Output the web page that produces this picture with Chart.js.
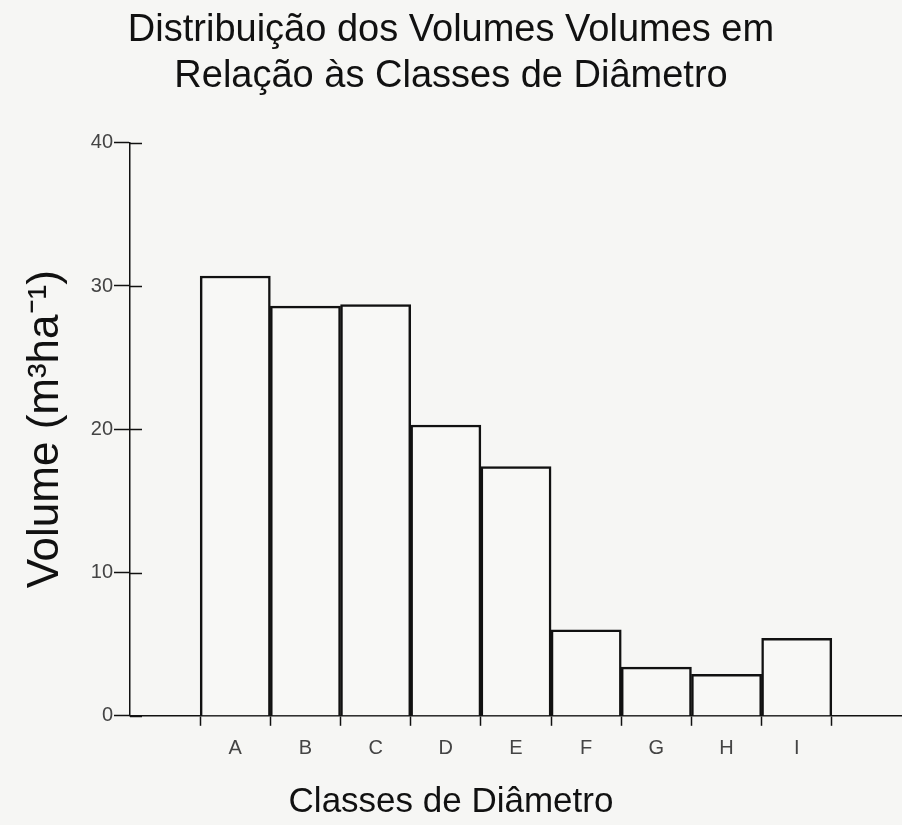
<!DOCTYPE html>
<html>
<head>
<meta charset="utf-8">
<script src="https://cdn.jsdelivr.net/npm/chart.js@4.4.1/dist/chart.umd.min.js"></script>
<style>
  html, body { margin: 0; padding: 0; background: #f6f6f4; }
  #wrap { width: 902px; height: 825px; }
</style>
</head>
<body>
<div id="wrap"><canvas id="myChart" width="902" height="825"></canvas></div>
<script>
// classes de diâmetro e volumes (m3/ha)
const classes = ["A", "B", "C", "D", "E", "F", "G", "H", "I"];
const volumes = [30.7, 28.6, 28.7, 20.3, 17.4, 6.0, 3.4, 2.9, 5.4];
const yTicks = [0, 10, 20, 30, 40];

// empty slot before A and after I, like the original axis
const labels = [""].concat(classes, [""]);
const values = [null].concat(volumes, [null]);

// little tick marks on the inner side of the y axis
const innerTicks = {
  id: "innerTicks",
  afterDraw(chart) {
    const ctx = chart.ctx;
    const y = chart.scales.y;
    ctx.save();
    ctx.strokeStyle = "#111";
    ctx.lineWidth = 1.5;
    for (let v of yTicks) {
      const py = Math.round(y.getPixelForValue(v)) + 0.5;
      ctx.beginPath();
      ctx.moveTo(y.right, py);
      ctx.lineTo(y.right + 12, py);
      ctx.stroke();
    }
    ctx.restore();
  },
};

const config = {
  type: "bar",
  data: {
    labels: labels,
    datasets: [
      {
        data: values,
        backgroundColor: "#f8f8f6",
        borderColor: "#111",
        borderWidth: 2.5,
        categoryPercentage: 1.0,
        barPercentage: 1.0,
      },
    ],
  },
  options: {
    responsive: false,
    animation: false,
    layout: { padding: 0 },
    scales: {
      x: {
        afterFit: (s) => { s.height = 65.2; },
        grid: {
          offset: true,
          drawOnChartArea: false,
          tickLength: 10,
          tickWidth: 1.5,
          tickColor: (c) => (c.index >= 1 && c.index <= 10 ? "#111" : "rgba(0,0,0,0)"),
        },
        border: { color: "#111", width: 1.5 },
        ticks: {
          color: "#444",
          padding: 11,
          font: { size: 20, family: "Liberation Sans" },
        },
      },
      y: {
        min: 0,
        max: 40,
        afterFit: (s) => { s.width = 130; },
        afterBuildTicks: (s) => { s.ticks = yTicks.map((v) => ({ value: v })); },
        grid: {
          drawOnChartArea: false,
          tickLength: 16,
          tickWidth: 1.5,
          tickColor: "#111",
        },
        border: { color: "#111", width: 1.5 },
        ticks: {
          color: "#444",
          padding: 1,
          font: { size: 20, family: "Liberation Sans" },
        },
        title: {
          display: true,
          text: "Volume (m³ha⁻¹)",
          color: "#111",
          padding: { top: 24, bottom: 0 },
          font: { size: 44, family: "Liberation Sans", lineHeight: 1.0 },
        },
      },
    },
    plugins: {
      legend: { display: false },
      tooltip: { enabled: false },
      title: {
        display: true,
        text: ["Distribuição dos Volumes Volumes em", "Relação às Classes de Diâmetro"],
        color: "#111",
        padding: { top: 7, bottom: 43 },
        font: { size: 38, family: "Liberation Sans", weight: "normal", lineHeight: 1.22 },
      },
      subtitle: {
        display: true,
        position: "bottom",
        text: "Classes de Diâmetro",
        color: "#111",
        padding: { top: 0, bottom: 2 },
        font: { size: 35, family: "Liberation Sans", weight: "normal", lineHeight: 1.2 },
      },
    },
  },
  plugins: [innerTicks],
};

const ctx = document.getElementById("myChart");
const volChart = new Chart(ctx, config);
</script>
</body>
</html>
